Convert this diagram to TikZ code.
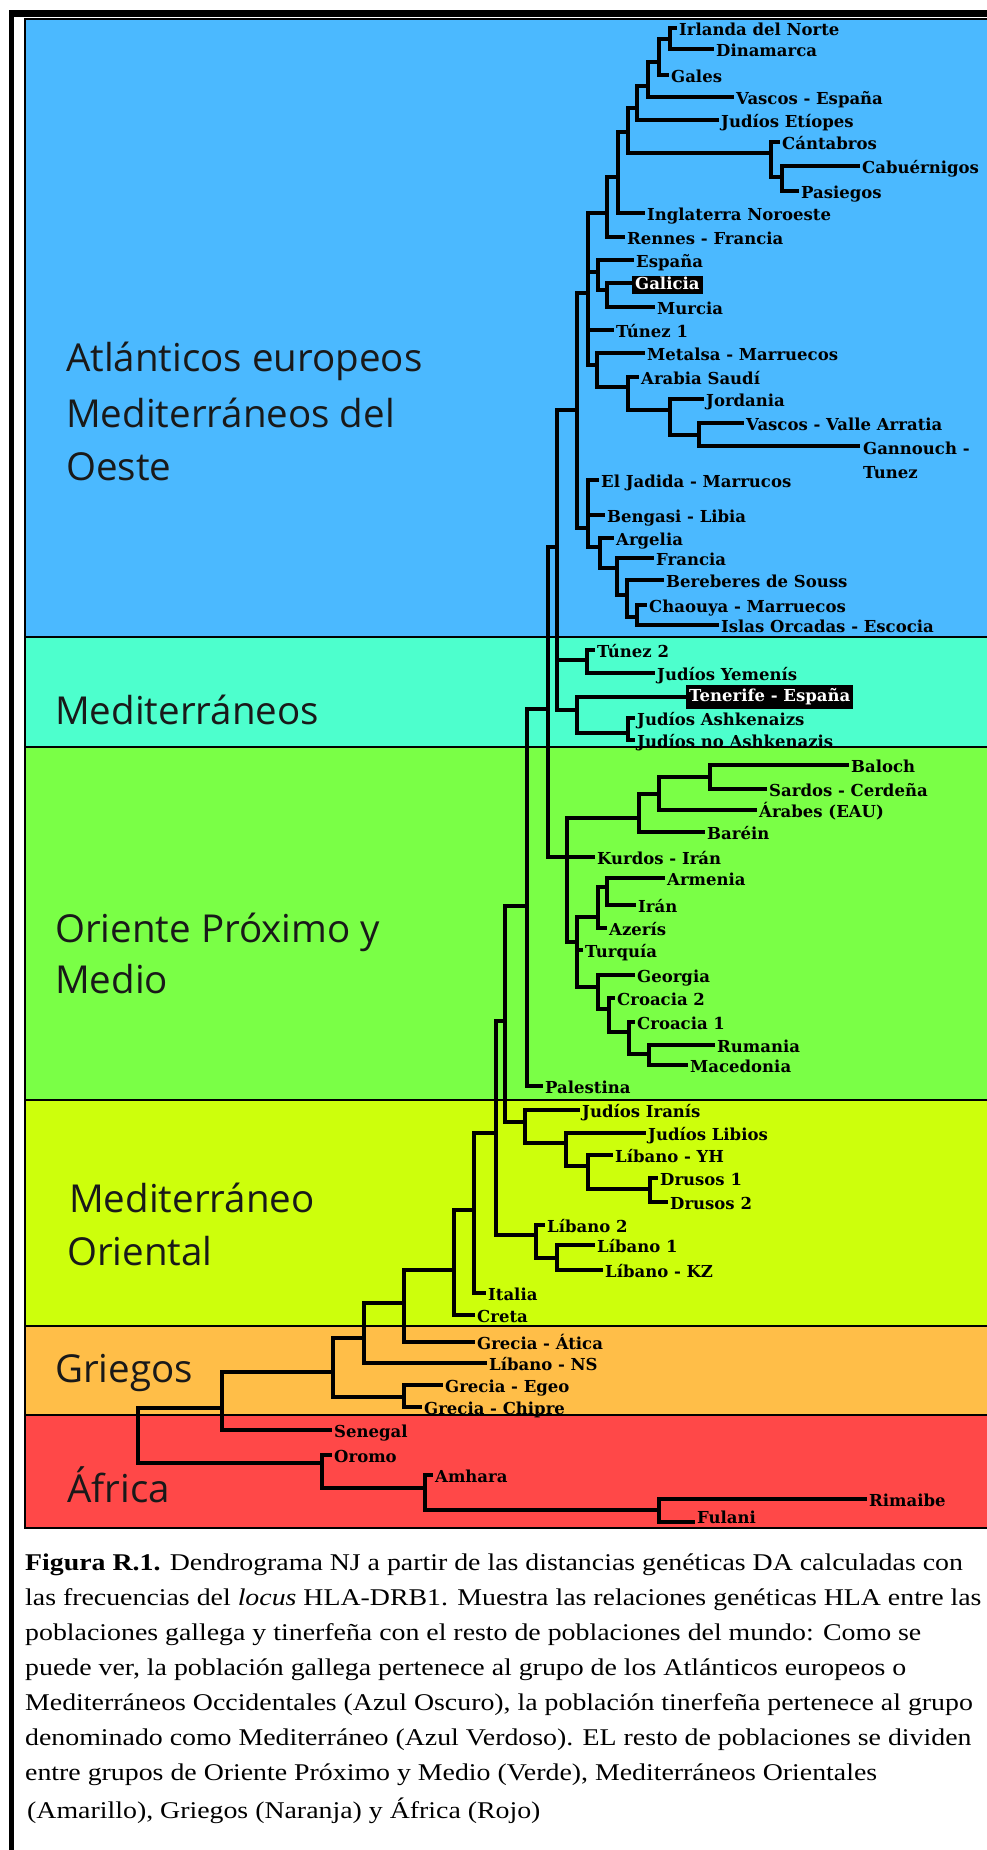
\documentclass[tikz,border=0pt]{standalone}
\usepackage{fontspec}
\setmainfont{Liberation Serif}
\newfontfamily\labfont{DejaVu Serif}
\newfontfamily\grpfont{Open Sans}
\newfontfamily\capfont[FakeStretch=1.16]{Liberation Serif}
\definecolor{cBlue}{RGB}{75,185,255}
\definecolor{cCyan}{RGB}{77,255,205}
\definecolor{cGreen}{RGB}{122,255,70}
\definecolor{cYellow}{RGB}{205,255,12}
\definecolor{cOrange}{RGB}{255,190,72}
\definecolor{cRed}{RGB}{255,72,72}
\begin{document}
\begin{tikzpicture}[x=1pt,y=-1pt,
  br/.style={line width=4.7pt,line cap=rect},
  sep/.style={line width=2.6pt},
  lab/.style={anchor=west,inner sep=0pt,font=\labfont\bfseries\fontsize{16.5}{20}\selectfont,text height=12pt,text depth=3.5pt},
  hil/.style={lab,fill=black,text=white,inner xsep=3pt},
  grp/.style={anchor=base west,inner sep=0pt,font=\grpfont\fontsize{38.5}{46}\selectfont,text=black!90},
  capt/.style={anchor=base west,inner sep=0pt,font=\capfont\fontsize{24}{35}\selectfont}]
\useasboundingbox (0,0) rectangle (987,1850);
\fill[white] (0,0) rectangle (987,1850);
% panels
\fill[cBlue] (25,19) rectangle (995,637);
\fill[cCyan] (25,637) rectangle (995,747);
\fill[cGreen] (25,747) rectangle (995,1100);
\fill[cYellow] (25,1100) rectangle (995,1326);
\fill[cOrange] (25,1326) rectangle (995,1415);
\fill[cRed] (25,1415) rectangle (995,1528);
\draw[sep] (25,19) rectangle (995,1528);
\foreach \yy in {637,747,1100,1326,1415} \draw[sep] (25,\yy) -- (995,\yy);
% outer frame
\draw[line width=7pt] (9,13.5) -- (995,13.5);
\draw[line width=4.5pt] (11.25,10) -- (11.25,1855);
% group labels
\node[grp] (g1a) at (66,371) {Atlánticos europeos};
\node[grp] (g1b) at (66,427) {Mediterráneos del};
\node[grp] (g1c) at (66,480) {Oeste};
\node[grp] (g2) at (55,724) {Mediterráneos};
\node[grp] (g3a) at (55,942) {Oriente Próximo y};
\node[grp] (g3b) at (55,993) {Medio};
\node[grp] (g4a) at (69,1212) {Mediterráneo};
\node[grp] (g4b) at (67,1265) {Oriental};
\node[grp] (g5) at (55,1382) {Griegos};
\node[grp] (g6) at (67,1502) {África};
% internal nodes
\foreach \n/\x/\y in {A/670/39,B/659/62,C/648/86,D/637/108,E/628/132,F/771/153,G/782/177,H/618/177,I/607/213,J/588/293,L/598/272,K/607/290,N/597/365,O/628/387,P/670/410,Q/699/435,R/577/410,S/588/528,T/600/547,U/617/568,V/627/595,W/637/617,X/557/547,Z1/587/660,Z2/577/710,Z3/628/733,Y/548/709,AA/567/857,AB/639/818,AC/659/794,AD/710/777,AG/577/942,AF/598/917,AE/607/887,AH/598/987,AI/609/1009,AJ/629/1032,AK/649/1054,BA/527/906,BB/505/1021,BD/525/1122,BE/566/1143,BF/588/1166,BG/650/1189,BC/496/1133,BH/536/1235,BI/557/1258,BJ/474/1210,BK/454/1270,BL/404/1303,BM/364/1338,BN/333/1372,BO/404/1397,BP/222/1408,BR/322/1463,BS/425/1488,BT/659/1510,BQ/138/1408}
  \coordinate (\n) at (\x,\y);
% leaf branch ends
\foreach \n/\x/\y in {irl/675/28,dina/712/49,gales/667/75,vascosE/732/97,jEti/717/120,cant/778/142,cabu/858/166,pasi/797/191,ingl/643/213,rennes/623/237,espana/632/260,galicia/631/283,murcia/653/307,tun1/612/330,metalsa/643/353,arabia/637/377,jordania/702/399,vascosVA/742/423,gann/858/446,jadida/597/480,bengasi/603/515,argelia/612/538,francia/652/558,berb/662/580,chaouya/645/605,orcadas/717/625,tun2/593/650,jYem/653/673,tene/685/697,ashk/633/718,noashk/633/740,baloch/847/765,sardos/765/789,arabes/755/810,barein/703/832,kurdos/593/857,armenia/663/878,iran/634/905,azeris/605/928,turquia/581/950,georgia/633/975,cro2/613/998,cro1/633/1022,rum/713/1045,mac/686/1065,palest/541/1086,jIran/578/1110,jLib/644/1133,libYH/611/1155,dru1/656/1178,dru2/666/1202,lib2/543/1225,lib1/593/1245,libKZ/601/1270,italia/484/1293,creta/473/1315,atica/473/1342,libNS/485/1363,egeo/441/1385,chipre/420/1407,senegal/330/1430,oromo/330/1455,amhara/431/1475,rimaibe/865/1499,fulani/693/1522}
  \coordinate (\n) at (\x,\y);
% verticals
\foreach \n/\t/\b in {A/irl/dina,B/A/gales,C/B/vascosE,D/C/jEti,E/D/F,F/cant/G,G/cabu/pasi,H/E/ingl,I/H/rennes,J/I/N,L/espana/K,K/galicia/murcia,N/metalsa/O,O/arabia/P,P/jordania/Q,Q/vascosVA/gann,R/J/S,S/jadida/T,T/argelia/U,U/francia/V,V/berb/W,W/chaouya/orcadas,X/R/Z2,Z1/tun2/jYem,Z2/tene/Z3,Z3/ashk/noashk,Y/X/AA,AA/AB/AG,AB/AC/barein,AC/AD/arabes,AD/baloch/sardos,AG/AF/AH,AF/AE/azeris,AE/armenia/iran,AH/georgia/AI,AI/cro2/AJ,AJ/cro1/AK,AK/rum/mac,BA/Y/palest,BB/BA/BD,BD/jIran/BE,BE/jLib/BF,BF/libYH/BG,BG/dru1/dru2,BC/BB/BH,BH/lib2/BI,BI/lib1/libKZ,BJ/BC/italia,BK/BJ/creta,BL/BK/atica,BM/BL/libNS,BN/BM/BO,BO/egeo/chipre,BP/BN/senegal,BQ/BP/BR,BR/oromo/BS,BS/amhara/BT,BT/rimaibe/fulani}
  \draw[br] (\n |- \t) -- (\n |- \b);
% horizontals
\foreach \n/\c in {A/irl,A/dina,B/A,B/gales,C/B,C/vascosE,D/C,D/jEti,E/D,E/F,F/cant,F/G,G/cabu,G/pasi,H/E,H/ingl,I/H,I/rennes,J/I,J/L,J/tun1,J/N,L/espana,L/K,K/galicia,K/murcia,N/metalsa,N/O,O/arabia,O/P,P/jordania,P/Q,Q/vascosVA,Q/gann,R/J,R/S,S/jadida,S/bengasi,S/T,T/argelia,T/U,U/francia,U/V,V/berb,V/W,W/chaouya,W/orcadas,X/R,X/Z1,X/Z2,Z1/tun2,Z1/jYem,Z2/tene,Z2/Z3,Z3/ashk,Z3/noashk,Y/X,Y/AA,AA/AB,AA/kurdos,AA/AG,AB/AC,AB/barein,AC/AD,AC/arabes,AD/baloch,AD/sardos,AG/AF,AG/turquia,AG/AH,AF/AE,AF/azeris,AE/armenia,AE/iran,AH/georgia,AH/AI,AI/cro2,AI/AJ,AJ/cro1,AJ/AK,AK/rum,AK/mac,BA/Y,BA/palest,BB/BA,BB/BD,BD/jIran,BD/BE,BE/jLib,BE/BF,BF/libYH,BF/BG,BG/dru1,BG/dru2,BC/BB,BC/BH,BH/lib2,BH/BI,BI/lib1,BI/libKZ,BJ/BC,BJ/italia,BK/BJ,BK/creta,BL/BK,BL/atica,BM/BL,BM/libNS,BN/BM,BN/BO,BO/egeo,BO/chipre,BP/BN,BP/senegal,BQ/BP,BQ/BR,BR/oromo,BR/BS,BS/amhara,BS/BT,BT/rimaibe,BT/fulani}
  \draw[br] (\n |- \c) -- (\c);
% leaf labels
\foreach \n/\t in {irl/{Irlanda del Norte},dina/Dinamarca,gales/Gales,vascosE/{Vascos - España},jEti/{Judíos Etíopes},cant/Cántabros,cabu/Cabuérnigos,pasi/Pasiegos,ingl/{Inglaterra Noroeste},rennes/{Rennes - Francia},espana/España,murcia/Murcia,tun1/{Túnez 1},metalsa/{Metalsa - Marruecos},arabia/{Arabia Saudí},jordania/Jordania,vascosVA/{Vascos - Valle Arratia},jadida/{El Jadida - Marrucos},bengasi/{Bengasi - Libia},argelia/Argelia,francia/Francia,berb/{Bereberes de Souss},chaouya/{Chaouya - Marruecos},orcadas/{Islas Orcadas - Escocia},tun2/{Túnez 2},jYem/{Judíos Yemenís},ashk/{Judíos Ashkenaizs},noashk/{Judíos no Ashkenazis},baloch/Baloch,sardos/{Sardos - Cerdeña},arabes/{Árabes (EAU)},barein/Baréin,kurdos/{Kurdos - Irán},armenia/Armenia,iran/Irán,azeris/Azerís,turquia/Turquía,georgia/Georgia,cro2/{Croacia 2},cro1/{Croacia 1},rum/Rumania,mac/Macedonia,palest/Palestina,jIran/{Judíos Iranís},jLib/{Judíos Libios},libYH/{Líbano - YH},dru1/{Drusos 1},dru2/{Drusos 2},lib2/{Líbano 2},lib1/{Líbano 1},libKZ/{Líbano - KZ},italia/Italia,creta/Creta,atica/{Grecia - Ática},libNS/{Líbano - NS},egeo/{Grecia - Egeo},chipre/{Grecia - Chipre},senegal/Senegal,oromo/Oromo,amhara/Amhara,rimaibe/Rimaibe}
  \node[lab] (t\n) at ([xshift=4pt,yshift=-3.5pt]\n) {\t};
\node[lab] (tfulani) at ([xshift=4pt,yshift=3pt]fulani) {Fulani};
\node[hil,inner ysep=1.5pt] (tgalicia) at ([xshift=1pt,yshift=-2pt]galicia) {Galicia};
\node[hil,inner ysep=4.5pt] (ttene) at ([xshift=1pt,yshift=0pt]tene) {Tenerife - España};
\node[lab,align=left,text height=,text depth=,anchor=north west,font=\labfont\bfseries\fontsize{16.5}{24}\selectfont] (tgann) at ([xshift=5pt,yshift=4pt]gann) {Gannouch -\\Tunez};
% caption
\node[capt] (c1) at (25,1570) {\textbf{Figura R.1.} Dendrograma NJ a partir de las distancias genéticas DA calculadas con};
\node[capt] (c2) at (25,1605) {las frecuencias del \textit{locus} HLA-DRB1. Muestra las relaciones genéticas HLA entre las};
\node[capt] (c3) at (25,1640) {poblaciones gallega y tinerfeña con el resto de poblaciones del mundo: Como se};
\node[capt] (c4) at (25,1675) {puede ver, la población gallega pertenece al grupo de los Atlánticos europeos o};
\node[capt] (c5) at (25,1710) {Mediterráneos Occidentales (Azul Oscuro), la población tinerfeña pertenece al grupo};
\node[capt] (c6) at (25,1745) {denominado como Mediterráneo (Azul Verdoso). EL resto de poblaciones se dividen};
\node[capt] (c7) at (25,1780) {entre grupos de Oriente Próximo y Medio (Verde), Mediterráneos Orientales};
\node[capt] (c8) at (27,1818) {(Amarillo), Griegos (Naranja) y África (Rojo)};
\end{tikzpicture}
\end{document}
